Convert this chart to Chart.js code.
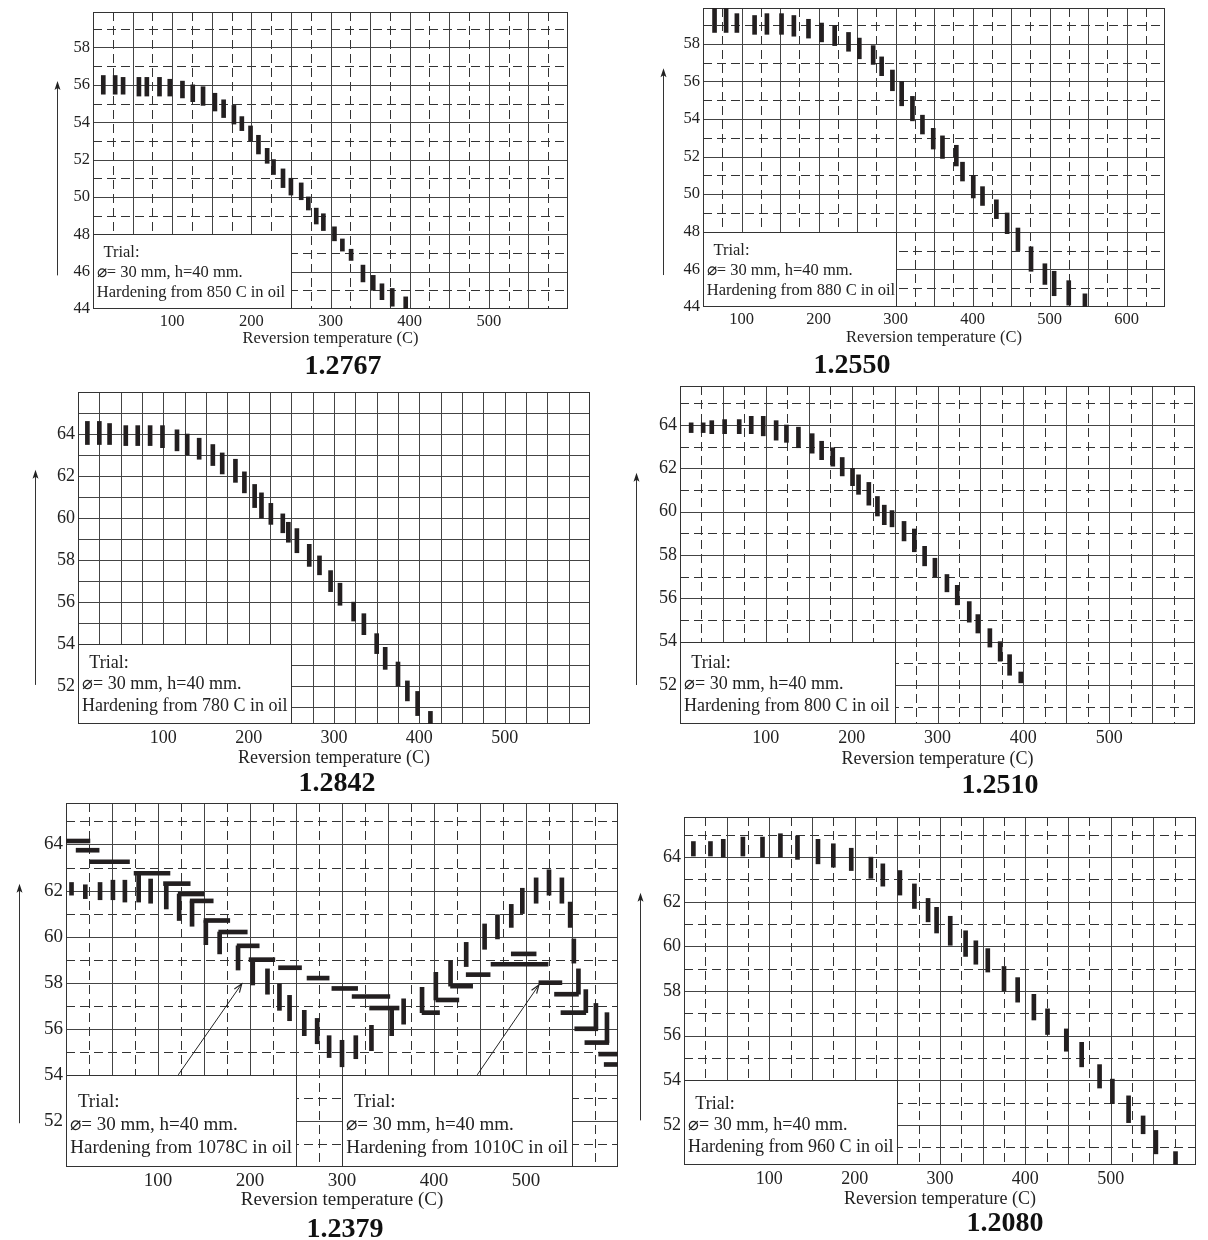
<!DOCTYPE html>
<html>
<head>
<meta charset="utf-8">
<script src="https://cdn.jsdelivr.net/npm/chart.js@4.4.1/dist/chart.umd.min.js"></script>
<style>
  body { margin: 0; background: #fff; width: 1208px; height: 1240px; position: relative; overflow: hidden; }
  canvas { position: absolute; }
  .code { position: absolute; font: bold 28px "Liberation Serif", serif; color: #111; transform: translate(-50%, -50%); white-space: nowrap; }
</style>
</head>
<body>
<canvas id="c1"></canvas>
<canvas id="c2"></canvas>
<canvas id="c3"></canvas>
<canvas id="c4"></canvas>
<canvas id="c5"></canvas>
<canvas id="c6"></canvas>
<div class="code" style="left:343px;top:365px">1.2767</div>
<div class="code" style="left:852px;top:364px">1.2550</div>
<div class="code" style="left:337px;top:782px">1.2842</div>
<div class="code" style="left:1000px;top:784px">1.2510</div>
<div class="code" style="left:345px;top:1228px">1.2379</div>
<div class="code" style="left:1005px;top:1222px">1.2080</div>
<script>
// tick labels
const xTicksA = [100, 200, 300, 400, 500];
const xTicksB = [100, 200, 300, 400, 500, 600];
const yTicksA = [44, 46, 48, 50, 52, 54, 56, 58];
const yTicksB = [52, 54, 56, 58, 60, 62, 64];

// 1.2767 - hardness range (HRC) per reversion temperature
const p1Temp = [13, 28, 38, 58, 68, 84, 97, 113, 126, 139, 154, 165, 178, 188, 199, 209, 220, 228, 240, 250, 263, 272, 282, 291, 305, 315, 326, 341, 354, 365, 378, 395];
const p1Low = [55.5, 55.5, 55.5, 55.4, 55.4, 55.4, 55.4, 55.3, 55.1, 54.9, 54.6, 54.25, 53.9, 53.55, 53.0, 52.3, 51.8, 51.2, 50.5, 50.1, 49.85, 49.3, 48.55, 48.2, 47.65, 47.1, 46.6, 45.45, 45.0, 44.5, 44.15, 44.0];
const p1High = [56.5, 56.5, 56.4, 56.4, 56.4, 56.4, 56.3, 56.2, 56.0, 55.9, 55.55, 55.2, 54.9, 54.3, 53.8, 53.3, 52.6, 52.0, 51.5, 51.0, 50.75, 50.0, 49.4, 49.1, 48.4, 47.75, 47.2, 46.35, 45.8, 45.35, 45.1, 44.65];

// 1.2550
const p2Temp = [65, 80, 94, 117, 133, 152, 168, 187, 204, 221, 239, 253, 271, 282, 296, 308, 322, 335, 349, 361, 379, 387, 401, 413, 431, 445, 459, 476, 494, 506, 525, 546];
const p2Low = [58.6, 58.6, 58.6, 58.5, 58.5, 58.5, 58.4, 58.3, 58.1, 57.9, 57.6, 57.2, 56.9, 56.3, 55.5, 54.7, 53.9, 53.2, 52.4, 51.9, 51.5, 50.7, 49.8, 49.4, 48.7, 47.9, 47.0, 45.9, 45.2, 44.6, 44.1, 44.0];
const p2High = [60.0, 60.0, 59.6, 59.5, 59.6, 59.6, 59.5, 59.3, 59.1, 58.95, 58.6, 58.3, 57.9, 57.3, 56.6, 56.0, 55.2, 54.2, 53.5, 53.1, 52.6, 51.7, 51.0, 50.4, 49.7, 49.0, 48.2, 47.2, 46.3, 45.9, 45.4, 44.7];

// 1.2842
const p3Temp = [11, 25, 37, 56, 70, 84.5, 99, 116, 128, 142, 158, 169, 184.5, 195, 207, 215, 226, 240, 246.5, 256.5, 271, 283, 296, 307, 323, 335, 350, 360, 375, 386, 398, 413];
const p3Low = [63.5, 63.5, 63.5, 63.45, 63.45, 63.45, 63.35, 63.2, 63.0, 62.8, 62.5, 62.1, 61.7, 61.2, 60.5, 60.0, 59.7, 59.3, 58.85, 58.35, 57.7, 57.3, 56.5, 55.85, 55.1, 54.45, 53.55, 52.8, 52.0, 51.3, 50.6, 50.2];
const p3High = [64.6, 64.6, 64.5, 64.4, 64.4, 64.4, 64.4, 64.2, 64.0, 63.8, 63.5, 63.1, 62.8, 62.2, 61.6, 61.2, 60.7, 60.2, 59.8, 59.5, 58.75, 58.2, 57.5, 56.9, 56.0, 55.45, 54.5, 53.85, 53.15, 52.25, 51.75, 50.8];

// 1.2510
const p4Temp = [13, 27, 37, 52, 69, 83, 97, 112, 124, 138, 154, 165, 178, 189, 201, 208, 220, 230, 238, 247, 261, 273, 285, 297, 311, 323, 337, 347, 361, 373, 384, 397];
const p4Low = [63.65, 63.65, 63.6, 63.6, 63.6, 63.6, 63.5, 63.3, 63.2, 62.95, 62.7, 62.4, 62.1, 61.65, 61.2, 60.8, 60.3, 59.8, 59.4, 59.3, 58.65, 58.15, 57.5, 57.0, 56.3, 55.7, 54.9, 54.4, 53.75, 53.1, 52.45, 52.1];
const p4High = [64.1, 64.1, 64.2, 64.25, 64.25, 64.4, 64.4, 64.2, 64.0, 63.9, 63.6, 63.25, 62.95, 62.5, 62.0, 61.7, 61.35, 60.7, 60.3, 60.05, 59.55, 59.2, 58.4, 57.85, 57.1, 56.6, 55.85, 55.25, 54.6, 54.0, 53.4, 52.6];

// 1.2379 - vertical ranges
const p5Temp = [6, 21, 37, 51, 64, 79, 92, 109, 123, 137, 152, 167, 187, 203, 219, 232, 243, 259, 273, 286, 300, 315, 332, 354, 367, 387, 402, 418, 435, 455, 469, 484, 496, 511, 525, 539, 548, 552, 557, 565, 576, 588];
const p5Low = [61.8, 61.65, 61.6, 61.6, 61.5, 61.5, 61.45, 61.2, 60.7, 60.45, 59.65, 59.25, 58.55, 57.9, 57.5, 56.8, 56.35, 55.7, 55.35, 54.75, 54.35, 54.7, 55.05, 55.7, 56.2, 56.7, 57.25, 57.85, 58.7, 59.45, 59.9, 60.4, 61.0, 61.45, 61.8, 61.45, 60.4, 58.85, 57.5, 56.7, 56.0, 55.4];
const p5High = [62.35, 62.25, 62.35, 62.45, 62.45, 62.75, 62.5, 62.3, 61.85, 61.55, 60.7, 60.2, 59.6, 59.0, 58.6, 57.95, 57.45, 56.8, 56.45, 55.7, 55.5, 55.7, 56.15, 56.9, 57.3, 57.8, 58.45, 58.95, 59.75, 60.55, 60.95, 61.4, 62.1, 62.55, 62.9, 62.55, 61.5, 59.9, 58.6, 57.7, 57.1, 56.7];
// 1.2379 - horizontal steps (hardness, temperature span)
const p5Hard = [64.15, 63.75, 63.25, 62.75, 62.3, 61.85, 61.55, 60.7, 60.2, 59.6, 59.0, 58.65, 58.2, 57.75, 57.4, 56.9, 56.7, 57.25, 57.85, 58.35, 59.25, 58.8, 58.0, 57.5, 56.7, 56.0, 55.4, 54.9, 54.45];
const p5From = [0, 11, 26, 74, 106, 122, 135, 150, 166, 186, 199, 231, 262, 289, 311, 330, 387, 402, 418, 435, 484, 462, 514, 531, 538, 553, 564, 579, 585];
const p5To = [26, 36, 69, 113, 135, 150, 160, 178, 197, 210, 227, 256, 286, 317, 352, 362, 406, 427, 442, 461, 511, 524, 539, 557, 565, 578, 590, 600, 600];
// pointer arrows from the two trial boxes
const p5ArrowX0 = [122, 447];
const p5ArrowY0 = [54, 54];
const p5ArrowX1 = [191, 514];
const p5ArrowY1 = [57.95, 57.9];

// 1.2080
const p6Temp = [11, 31, 46, 69, 92, 113, 133, 157, 175, 196, 219, 233, 253, 270, 286, 296, 312, 330, 342, 356, 375, 391, 410, 426, 448, 466, 487, 502, 521, 538, 553, 576];
const p6Low = [64.05, 64.05, 64.0, 64.05, 64.0, 64.0, 63.9, 63.7, 63.55, 63.4, 63.05, 62.7, 62.3, 61.7, 61.1, 60.6, 60.05, 59.55, 59.2, 58.85, 58.0, 57.5, 56.7, 56.05, 55.3, 54.6, 53.65, 52.95, 52.1, 51.6, 50.7, 50.2];
const p6High = [64.7, 64.7, 64.8, 64.9, 64.9, 65.05, 64.95, 64.8, 64.6, 64.4, 64.0, 63.7, 63.4, 62.8, 62.15, 61.75, 61.35, 60.7, 60.25, 59.9, 59.1, 58.6, 57.85, 57.2, 56.3, 55.7, 54.7, 54.05, 53.3, 52.4, 51.75, 50.8];

const INK = '#231f20';
const FONT = '"Liberation Serif", "DejaVu Serif", serif';

function steps(a, b, s) {
  const out = [];
  for (let v = a; v <= b + 1e-9; v += s) out.push(v);
  return out;
}

function trial(temp) {
  return ['Trial:', '\u2300= 30 mm, h=40 mm.', 'Hardening from ' + temp + ' in oil'];
}

function rangeBars(t, lo, hi) {
  return {
    data: t.map((v, i) => ({ x: v, y: [lo[i], hi[i]] })),
    backgroundColor: INK, barThickness: 4, grouped: false
  };
}

const panels = [
  { id: 'c1', area: [93, 12, 568, 309], xr: [0, 600], yr: [44, 59.9], xt: xTicksA, yt: yTicksA, f: 16.5, gap: 30,
    arrow: [-36, 45.8, 56.2], vS: steps(50, 550, 50), vD: steps(25, 575, 50), hS: steps(46, 58, 2), hD: steps(45, 59, 2),
    boxes: [{ from: 0, to: 250, top: 48, text: trial('850 C') }],
    sets: [rangeBars(p1Temp, p1Low, p1High)] },
  { id: 'c2', area: [703, 8, 1165, 307], xr: [50, 650], yr: [44, 59.9], xt: xTicksB, yt: yTicksA, f: 16.5, gap: 31,
    arrow: [-40, 45.7, 56.7], vS: steps(100, 600, 50), vD: steps(75, 625, 50), hS: steps(46, 58, 2), hD: steps(45, 59, 2),
    boxes: [{ from: 50, to: 300, top: 48, text: trial('880 C') }],
    sets: [rangeBars(p2Temp, p2Low, p2High)] },
  { id: 'c3', area: [78, 392, 590, 724], xr: [0, 600], yr: [50.2, 66], xt: xTicksA, yt: yTicksB, f: 18, gap: 34,
    arrow: [-43, 52.06, 62.3], vS: steps(25, 575, 25), vD: [], hS: steps(51, 65, 1), hD: [],
    boxes: [{ from: 0, to: 250, top: 54, text: trial('780 C') }],
    sets: [rangeBars(p3Temp, p3Low, p3High)] },
  { id: 'c4', area: [680, 386, 1195, 724], xr: [0, 600], yr: [50.2, 65.8], xt: xTicksA, yt: yTicksB, f: 18, gap: 35,
    arrow: [-44, 52, 61.8], vS: steps(50, 550, 50), vD: steps(25, 575, 50), hS: steps(52, 64, 2), hD: steps(51, 65, 2),
    boxes: [{ from: 0, to: 250, top: 54, text: trial('800 C') }],
    sets: [rangeBars(p4Temp, p4Low, p4High)] },
  { id: 'c5', area: [66, 803, 618, 1167], xr: [0, 600], yr: [50, 65.8], xt: xTicksA, yt: yTicksB, f: 19, gap: 33,
    arrow: [-47, 51.9, 62.3], vS: steps(50, 550, 50), vD: steps(25, 575, 50), hS: steps(52, 64, 2), hD: steps(51, 65, 2),
    boxes: [{ from: 0, to: 250, top: 54, text: trial('1078C') }, { from: 300, to: 550, top: 54, text: trial('1010C') }],
    sets: [
      rangeBars(p5Temp, p5Low, p5High),
      { data: p5Hard.map((v, i) => ({ y: v, x: [p5From[i], p5To[i]] })), indexAxis: 'y',
        backgroundColor: INK, barThickness: 4, grouped: false },
      ...p5ArrowX0.map((x0, i) => ({ type: 'line', arrow: true,
        data: [{ x: x0, y: p5ArrowY0[i] }, { x: p5ArrowX1[i], y: p5ArrowY1[i] }],
        borderColor: '#222', borderWidth: 1, pointRadius: 0 }))
    ] },
  { id: 'c6', area: [684, 817, 1196, 1165], xr: [0, 600], yr: [50.2, 65.8], xt: xTicksA, yt: yTicksB, f: 18, gap: 34,
    arrow: [-44, 52.2, 62.4], vS: steps(50, 550, 50), vD: steps(25, 575, 50), hS: steps(52, 64, 2), hD: steps(51, 65, 2),
    boxes: [{ from: 0, to: 250, top: 54, text: trial('960 C') }],
    sets: [rangeBars(p6Temp, p6Low, p6High)] }
];

// grid paper, trial boxes, frame and the hardness arrow
function paper(p) {
  return {
    id: 'paper',
    beforeDatasetsDraw(chart) {
      const { ctx, chartArea: a, scales: { x, y } } = chart;
      const px = v => Math.round(x.getPixelForValue(v)) + 0.5;
      const py = v => Math.round(y.getPixelForValue(v)) + 0.5;
      const seg = (x0, y0, x1, y1) => { ctx.beginPath(); ctx.moveTo(x0, y0); ctx.lineTo(x1, y1); ctx.stroke(); };
      ctx.save();
      ctx.beginPath();
      ctx.rect(a.left, a.top, a.right - a.left, a.bottom - a.top);
      ctx.clip();
      ctx.lineWidth = 1;
      ctx.strokeStyle = '#333';
      ctx.setLineDash([9, 5]);
      p.vD.forEach(v => seg(px(v), a.top, px(v), a.bottom));
      p.hD.forEach(v => seg(a.left, py(v), a.right, py(v)));
      ctx.setLineDash([]);
      ctx.strokeStyle = '#444';
      p.vS.forEach(v => seg(px(v), a.top, px(v), a.bottom));
      p.hS.forEach(v => seg(a.left, py(v), a.right, py(v)));

      ctx.font = p.f + 'px ' + FONT;
      ctx.textBaseline = 'middle';
      p.boxes.forEach(b => {
        const x0 = px(b.from), x1 = px(b.to), y0 = py(b.top), y1 = a.bottom;
        ctx.fillStyle = '#fff';
        ctx.fillRect(x0, y0, x1 - x0, y1 - y0);
        ctx.strokeStyle = '#333';
        ctx.strokeRect(x0, y0, x1 - x0, y1 - y0);
        ctx.fillStyle = '#222';
        b.text.forEach((s, i) => {
          const ty = y1 - p.f * (1 + 1.2 * (2 - i));
          ctx.fillText(s, x0 + (i === 0 ? 0.6 : 0.2) * p.f, ty);
        });
      });
      ctx.restore();

      ctx.save();
      ctx.strokeStyle = '#333';
      ctx.lineWidth = 1;
      ctx.strokeRect(Math.round(a.left) + 0.5, Math.round(a.top) + 0.5, Math.round(a.right - a.left) - 1, Math.round(a.bottom - a.top) - 1);
      const ax = Math.round(a.left + p.arrow[0]) + 0.5;
      const yb = y.getPixelForValue(p.arrow[1]), yt = y.getPixelForValue(p.arrow[2]);
      seg(ax, yb, ax, yt + 4);
      ctx.fillStyle = '#222';
      ctx.beginPath();
      ctx.moveTo(ax, yt);
      ctx.lineTo(ax - 3, yt + 9);
      ctx.lineTo(ax, yt + 7);
      ctx.lineTo(ax + 3, yt + 9);
      ctx.closePath();
      ctx.fill();
      ctx.restore();
    },
    afterDatasetsDraw(chart) {
      const ctx = chart.ctx;
      chart.data.datasets.forEach((ds, i) => {
        if (!ds.arrow) return;
        const pts = chart.getDatasetMeta(i).data;
        const s = pts[0], e = pts[pts.length - 1];
        const ang = Math.atan2(e.y - s.y, e.x - s.x);
        ctx.save();
        ctx.strokeStyle = '#222';
        ctx.lineWidth = 1.2;
        ctx.beginPath();
        ctx.moveTo(e.x - 9 * Math.cos(ang - 0.35), e.y - 9 * Math.sin(ang - 0.35));
        ctx.lineTo(e.x, e.y);
        ctx.lineTo(e.x - 9 * Math.cos(ang + 0.35), e.y - 9 * Math.sin(ang + 0.35));
        ctx.stroke();
        ctx.restore();
      });
    }
  };
}

function makePanel(p) {
  const cv = document.getElementById(p.id);
  const [l, t, r, b] = p.area;
  const padL = 72, padT = 6, padR = 6;
  const padB = Math.round(p.gap + p.f * 0.6 + 2);
  cv.width = (r - l) + padL + padR;
  cv.height = (b - t) + padT + padB;
  cv.style.left = (l - padL) + 'px';
  cv.style.top = (t - padT) + 'px';
  const tickFont = { family: FONT, size: p.f };
  new Chart(cv, {
    type: 'bar',
    data: { datasets: p.sets },
    options: {
      responsive: false,
      animation: false,
      events: [],
      layout: { padding: { left: 0, top: padT, right: padR, bottom: 0 } },
      plugins: { legend: { display: false }, tooltip: { enabled: false } },
      scales: {
        x: {
          type: 'linear', position: 'bottom', min: p.xr[0], max: p.xr[1], offset: false,
          grid: { display: false, drawTicks: false, offset: false }, border: { display: false },
          ticks: { font: tickFont, color: '#222', padding: 3, maxRotation: 0 },
          afterBuildTicks: s => { s.ticks = p.xt.map(v => ({ value: v })); },
          afterFit: s => { s.height = padB; s.paddingLeft = 0; s.paddingRight = 0; },
          title: { display: true, text: 'Reversion temperature (C)', font: tickFont, color: '#222', padding: { top: 0, bottom: 2 } }
        },
        y: {
          type: 'linear', position: 'left', min: p.yr[0], max: p.yr[1], offset: false,
          grid: { display: false, drawTicks: false, offset: false }, border: { display: false },
          ticks: { font: tickFont, color: '#222', padding: 3 },
          afterBuildTicks: s => { s.ticks = p.yt.map(v => ({ value: v })); },
          afterFit: s => { s.width = padL; s.paddingTop = 0; s.paddingBottom = 0; }
        }
      }
    },
    plugins: [paper(p)]
  });
}

panels.forEach(makePanel);
</script>
</body>
</html>
